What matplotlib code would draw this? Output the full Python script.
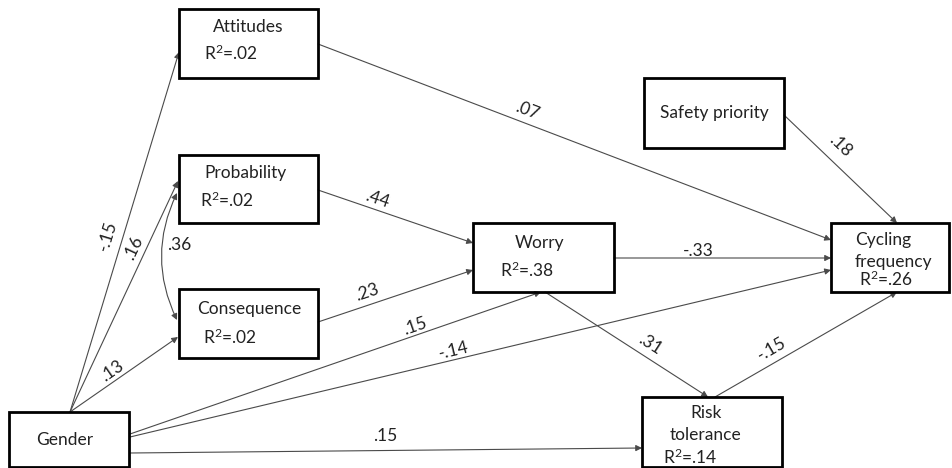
import numpy as np
import matplotlib.pyplot as plt
from matplotlib.patches import Rectangle, FancyArrowPatch

plt.rcParams['font.family'] = ['Lato', 'DejaVu Sans']
plt.rcParams['mathtext.fontset'] = 'custom'
plt.rcParams['mathtext.rm'] = 'Lato'
plt.rcParams['mathtext.it'] = 'Lato'
plt.rcParams['mathtext.bf'] = 'Lato'

# node names, text lines and R2
nodes = ['Attitudes', 'Probability', 'Consequence', 'Gender', 'Worry',
         'Safety priority', 'Cycling frequency', 'Risk tolerance']
r2 = {'Attitudes': '.02', 'Probability': '.02', 'Consequence': '.02',
      'Worry': '.38', 'Cycling frequency': '.26', 'Risk tolerance': '.14'}

# paths: source, target, standardized coefficient
edges = [
    ('Gender', 'Attitudes', '-.15'),
    ('Gender', 'Probability', '.16'),
    ('Gender', 'Consequence', '.13'),
    ('Gender', 'Worry', '.15'),
    ('Gender', 'Cycling frequency', '-.14'),
    ('Gender', 'Risk tolerance', '.15'),
    ('Attitudes', 'Cycling frequency', '.07'),
    ('Probability', 'Worry', '.44'),
    ('Consequence', 'Worry', '.23'),
    ('Safety priority', 'Cycling frequency', '.18'),
    ('Worry', 'Cycling frequency', '-.33'),
    ('Worry', 'Risk tolerance', '.31'),
    ('Risk tolerance', 'Cycling frequency', '-.15'),
]
corr = ('Probability', 'Consequence', '.36')

# ---- layout (pixels, y down) ----
boxes = {  # x0, y0, x1, y1
    'Attitudes': (179, 9, 318, 78),
    'Probability': (179, 155, 318, 223),
    'Consequence': (179, 289, 318, 358),
    'Gender': (9, 412, 129, 467),
    'Worry': (473, 223, 614, 292),
    'Safety priority': (644, 78, 784, 148),
    'Cycling frequency': (831, 223, 949, 292),
    'Risk tolerance': (642, 397, 782, 467),
}
# text lines: (text, x, y, ha)
texts = {
    'Attitudes': [('Attitudes', 248, 27, 'center')],
    'Probability': [('Probability', 246, 173, 'center')],
    'Consequence': [('Consequence', 249, 309, 'center')],
    'Gender': [('Gender', 65, 440, 'center')],
    'Worry': [('Worry', 540, 243, 'center')],
    'Safety priority': [('Safety priority', 714, 113, 'center')],
    'Cycling frequency': [('Cycling', 855, 240, 'left'), ('frequency', 855, 262, 'left')],
    'Risk tolerance': [('Risk', 706, 413, 'center'), ('tolerance', 706, 435, 'center')],
}
r2_pos = {'Attitudes': (204, 53), 'Probability': (200, 200), 'Consequence': (203, 337),
          'Worry': (500, 270), 'Cycling frequency': (859, 279), 'Risk tolerance': (663, 457)}
# arrow endpoints and label positions, in the order of edges
ends = [
    ((70, 412), (179, 52)),
    ((70, 412), (178, 181)),
    ((70, 412), (178, 337)),
    ((130, 434), (541, 292)),
    ((130, 437), (831, 270)),
    ((130, 453), (642, 448)),
    ((318, 44), (831, 240)),
    ((318, 190), (473, 243)),
    ((318, 322), (473, 270)),
    ((784, 115), (897, 223)),
    ((614, 258), (831, 258)),
    ((545, 292), (708, 397)),
    ((715, 397), (897, 292)),
]
label_pos = [(108, 236), (134, 248), (112, 371), (415, 326), (454, 351), (385, 436),
             (527, 111), (377, 199), (367, 292), (840, 146), (698, 251), (650, 344), (772, 349)]
label_rot = [True, True, True, True, True, False, True, True, True, True, False, True, True]

W, H = 952, 468
fig = plt.figure(figsize=(W / 100, H / 100), dpi=100)
ax = fig.add_axes([0, 0, 1, 1])
ax.set_xlim(0, W)
ax.set_ylim(H, 0)
ax.axis('off')

fs = 12.5
lc = '#4a4a4a'
tc = '#222222'

for n in nodes:
    x0, y0, x1, y1 = boxes[n]
    ax.add_patch(Rectangle((x0, y0), x1 - x0, y1 - y0, fill=False, ec='black', lw=2.0, zorder=3))
    for t, x, y, ha in texts[n]:
        ax.text(x, y, t, ha=ha, va='center', fontsize=fs, color=tc)
    if n in r2:
        x, y = r2_pos[n]
        ax.text(x, y, r'R$^{\mathrm{2}}$=' + r2[n], ha='left', va='center', fontsize=fs, color=tc)

for (src, dst, coef), (p0, p1), lp, rot in zip(edges, ends, label_pos, label_rot):
    ar = FancyArrowPatch(p0, p1, arrowstyle='-|>', mutation_scale=9, lw=0.8,
                         color=lc, shrinkA=0, shrinkB=0, zorder=2)
    ax.add_patch(ar)
    ang = -np.degrees(np.arctan2(p1[1] - p0[1], p1[0] - p0[0])) if rot else 0
    ax.text(lp[0], lp[1], coef, ha='center', va='center', fontsize=fs,
            rotation=ang, rotation_mode='anchor', color=tc)

# correlation between probability and consequence
ca = FancyArrowPatch((177, 193), (177, 320), arrowstyle='<|-|>', mutation_scale=9, lw=0.8,
                     color=lc, shrinkA=0, shrinkB=0, connectionstyle='arc3,rad=0.24', zorder=2)
ax.add_patch(ca)
ax.text(179, 245, corr[2], ha='center', va='center', fontsize=fs, color=tc)

fig.savefig('out.png', dpi=100, facecolor='white')
